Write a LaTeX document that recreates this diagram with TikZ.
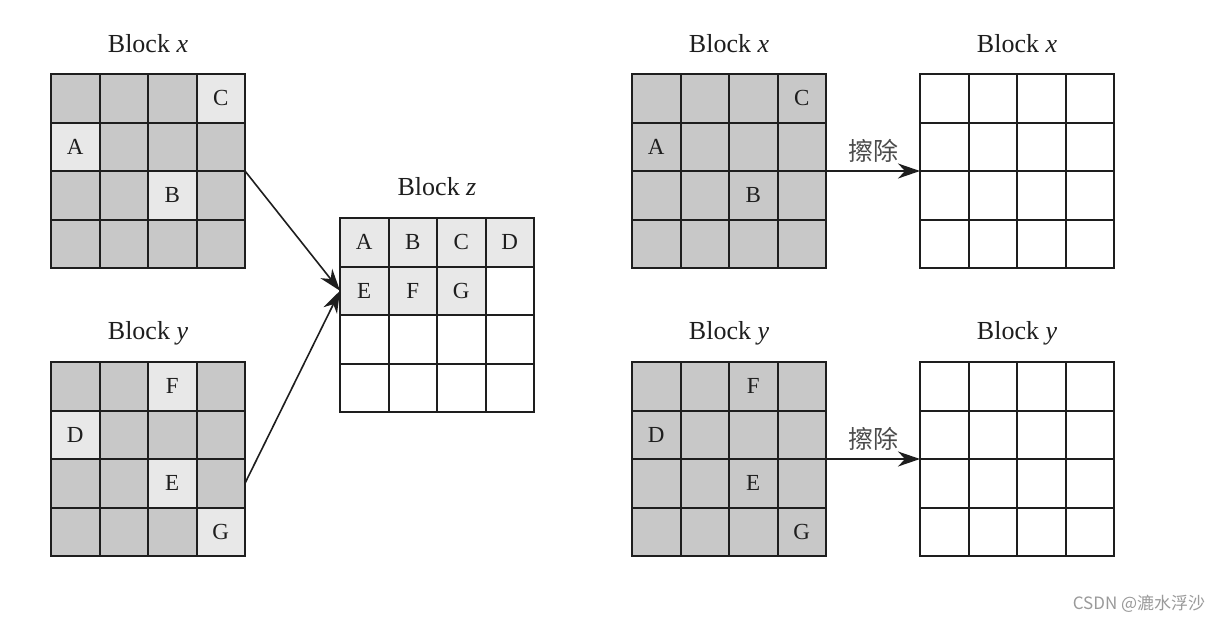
\documentclass[tikz,border=0pt]{standalone}
\usepackage{fontspec}
\setmainfont{Liberation Serif}
\newfontfamily\cjk{Noto Sans CJK SC}
\usetikzlibrary{arrows.meta}
\definecolor{darkcell}{HTML}{C8C8C8}
\definecolor{lightcell}{HTML}{E8E8E8}
\definecolor{inkcol}{HTML}{1E1E1E}
\definecolor{markcol}{HTML}{9A9A9A}
\tikzset{
  cell/.style={draw=inkcol, line width=2pt, minimum size=48.5pt, inner sep=0pt, outer sep=0pt,
    font=\fontsize{23}{23}\selectfont, text=inkcol},
  blocklbl/.style={anchor=base, inner sep=0pt, font=\fontsize{26}{26}\selectfont, text=inkcol},
  arr/.style={draw=inkcol, line width=1.6pt, -{Stealth[length=22pt,width=15pt,inset=7pt]}},
  cnlbl/.style={inner sep=0pt, font=\cjk\fontsize{25}{25}\selectfont, text=inkcol!80},
}
\newcommand\mygrid[4]{%
  \foreach \r in {1,...,4}{\foreach \c in {1,...,4}{%
    \node[cell,fill=#4] (#1-\r-\c) at ({#2+(\c-0.5)*48.5},{#3+(\r-0.5)*48.5}) {};
  }}}
\begin{document}
\begin{tikzpicture}[x=1pt,y=-1pt]
\useasboundingbox[fill=white] (0,0) rectangle (1223,622);

% left part
\mygrid{lx}{51}{74}{darkcell}
\mygrid{ly}{51}{362}{darkcell}
\mygrid{bz}{340}{218}{white}
\node[blocklbl] (tlx) at (148,52) {Block \textit{x}};
\node[blocklbl] (tly) at (148,339) {Block \textit{y}};
\node[blocklbl] (tbz) at (437,195) {Block \textit{z}};

\node[cell,fill=lightcell] (lxC) at (lx-1-4) {C};
\node[cell,fill=lightcell] (lxA) at (lx-2-1) {A};
\node[cell,fill=lightcell] (lxB) at (lx-3-3) {B};
\node[cell,fill=lightcell] (lyF) at (ly-1-3) {F};
\node[cell,fill=lightcell] (lyD) at (ly-2-1) {D};
\node[cell,fill=lightcell] (lyE) at (ly-3-3) {E};
\node[cell,fill=lightcell] (lyG) at (ly-4-4) {G};

\node[cell,fill=lightcell] (bzA) at (bz-1-1) {A};
\node[cell,fill=lightcell] (bzB) at (bz-1-2) {B};
\node[cell,fill=lightcell] (bzC) at (bz-1-3) {C};
\node[cell,fill=lightcell] (bzD) at (bz-1-4) {D};
\node[cell,fill=lightcell] (bzE) at (bz-2-1) {E};
\node[cell,fill=lightcell] (bzF) at (bz-2-2) {F};
\node[cell,fill=lightcell] (bzG) at (bz-2-3) {G};

\draw[arr] (lx-2-4.south east) -- (bz-2-1.west);
\draw[arr] (ly-3-4.east) -- (bz-2-1.west);

% right part
\mygrid{rx}{632}{74}{darkcell}
\mygrid{ry}{632}{362}{darkcell}
\mygrid{ex}{920}{74}{white}
\mygrid{ey}{920}{362}{white}
\node[blocklbl] (trx) at (729,52) {Block \textit{x}};
\node[blocklbl] (try) at (729,339) {Block \textit{y}};
\node[blocklbl] (tex) at (1017,52) {Block \textit{x}};
\node[blocklbl] (tey) at (1017,339) {Block \textit{y}};

\node[cell] (rxC) at (rx-1-4) {C};
\node[cell] (rxA) at (rx-2-1) {A};
\node[cell] (rxB) at (rx-3-3) {B};
\node[cell] (ryF) at (ry-1-3) {F};
\node[cell] (ryD) at (ry-2-1) {D};
\node[cell] (ryE) at (ry-3-3) {E};
\node[cell] (ryG) at (ry-4-4) {G};

\draw[arr] (rx-2-4.south east) -- node[cnlbl, above=8pt] (ca) {擦除} (ex-2-1.south west);
\draw[arr] (ry-2-4.south east) -- node[cnlbl, above=8pt] (cb) {擦除} (ey-2-1.south west);

\node[inner sep=0pt, font=\cjk\fontsize{17}{17}\selectfont, text=markcol] (wm) at (1139,604) {CSDN @漉水浮沙};
\end{tikzpicture}
\end{document}
